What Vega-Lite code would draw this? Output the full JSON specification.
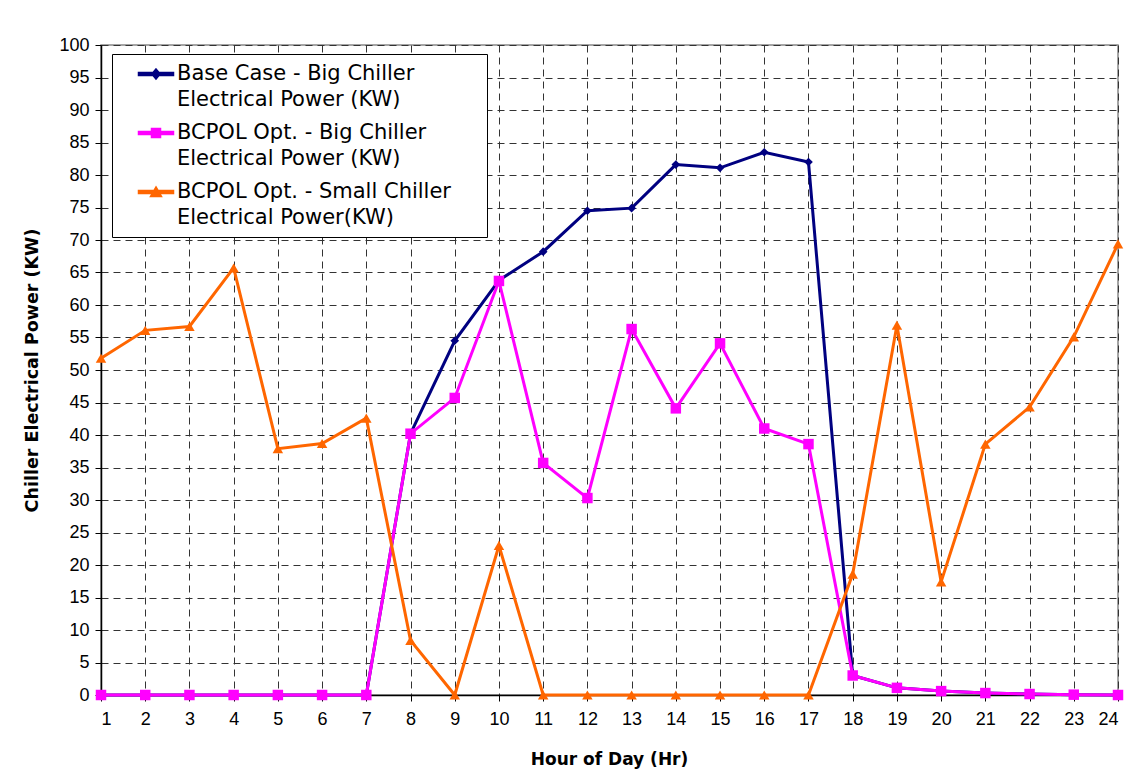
{
  "$schema": "https://vega.github.io/schema/vega-lite/v6.json",
  "width": 1017,
  "height": 650,
  "autosize": {"type": "none"},
  "padding": {"left": 101, "top": 45, "right": 22, "bottom": 85},
  "background": "white",
  "config": {
    "font": "Liberation Sans",
    "view": {"stroke": "#888888", "strokeWidth": 1.5},
    "style": {"guide-label": {"lineHeight": 26}},
    "axis": {
      "labelFont": "Liberation Sans",
      "titleFont": "DejaVu Sans",
      "labelFontSize": 18,
      "labelColor": "black",
      "titleFontSize": 17,
      "titleFontWeight": "bold",
      "titleColor": "black",
      "domainColor": "black",
      "domainWidth": 1.5,
      "tickColor": "black",
      "tickSize": 6,
      "gridColor": "#333333",
      "gridDash": [7, 5],
      "gridWidth": 1,
      "gridOpacity": 1
    }
  },
  "datasets": {
    "power": [
      {"hour": 1, "series": "Base Case - Big Chiller Electrical Power (KW)", "kw": 0},
      {"hour": 2, "series": "Base Case - Big Chiller Electrical Power (KW)", "kw": 0},
      {"hour": 3, "series": "Base Case - Big Chiller Electrical Power (KW)", "kw": 0},
      {"hour": 4, "series": "Base Case - Big Chiller Electrical Power (KW)", "kw": 0},
      {"hour": 5, "series": "Base Case - Big Chiller Electrical Power (KW)", "kw": 0},
      {"hour": 6, "series": "Base Case - Big Chiller Electrical Power (KW)", "kw": 0},
      {"hour": 7, "series": "Base Case - Big Chiller Electrical Power (KW)", "kw": 0},
      {"hour": 8, "series": "Base Case - Big Chiller Electrical Power (KW)", "kw": 40.2},
      {"hour": 9, "series": "Base Case - Big Chiller Electrical Power (KW)", "kw": 54.5},
      {"hour": 10, "series": "Base Case - Big Chiller Electrical Power (KW)", "kw": 63.8},
      {"hour": 11, "series": "Base Case - Big Chiller Electrical Power (KW)", "kw": 68.2},
      {"hour": 12, "series": "Base Case - Big Chiller Electrical Power (KW)", "kw": 74.5},
      {"hour": 13, "series": "Base Case - Big Chiller Electrical Power (KW)", "kw": 74.9},
      {"hour": 14, "series": "Base Case - Big Chiller Electrical Power (KW)", "kw": 81.6},
      {"hour": 15, "series": "Base Case - Big Chiller Electrical Power (KW)", "kw": 81.1},
      {"hour": 16, "series": "Base Case - Big Chiller Electrical Power (KW)", "kw": 83.5},
      {"hour": 17, "series": "Base Case - Big Chiller Electrical Power (KW)", "kw": 82.0},
      {"hour": 18, "series": "Base Case - Big Chiller Electrical Power (KW)", "kw": 3.0},
      {"hour": 19, "series": "Base Case - Big Chiller Electrical Power (KW)", "kw": 1.1},
      {"hour": 20, "series": "Base Case - Big Chiller Electrical Power (KW)", "kw": 0.6},
      {"hour": 21, "series": "Base Case - Big Chiller Electrical Power (KW)", "kw": 0.3},
      {"hour": 22, "series": "Base Case - Big Chiller Electrical Power (KW)", "kw": 0.15},
      {"hour": 23, "series": "Base Case - Big Chiller Electrical Power (KW)", "kw": 0.05},
      {"hour": 24, "series": "Base Case - Big Chiller Electrical Power (KW)", "kw": 0},
      {"hour": 1, "series": "BCPOL Opt. - Big Chiller Electrical Power (KW)", "kw": 0},
      {"hour": 2, "series": "BCPOL Opt. - Big Chiller Electrical Power (KW)", "kw": 0},
      {"hour": 3, "series": "BCPOL Opt. - Big Chiller Electrical Power (KW)", "kw": 0},
      {"hour": 4, "series": "BCPOL Opt. - Big Chiller Electrical Power (KW)", "kw": 0},
      {"hour": 5, "series": "BCPOL Opt. - Big Chiller Electrical Power (KW)", "kw": 0},
      {"hour": 6, "series": "BCPOL Opt. - Big Chiller Electrical Power (KW)", "kw": 0},
      {"hour": 7, "series": "BCPOL Opt. - Big Chiller Electrical Power (KW)", "kw": 0},
      {"hour": 8, "series": "BCPOL Opt. - Big Chiller Electrical Power (KW)", "kw": 40.2},
      {"hour": 9, "series": "BCPOL Opt. - Big Chiller Electrical Power (KW)", "kw": 45.7},
      {"hour": 10, "series": "BCPOL Opt. - Big Chiller Electrical Power (KW)", "kw": 63.7},
      {"hour": 11, "series": "BCPOL Opt. - Big Chiller Electrical Power (KW)", "kw": 35.7},
      {"hour": 12, "series": "BCPOL Opt. - Big Chiller Electrical Power (KW)", "kw": 30.3},
      {"hour": 13, "series": "BCPOL Opt. - Big Chiller Electrical Power (KW)", "kw": 56.3},
      {"hour": 14, "series": "BCPOL Opt. - Big Chiller Electrical Power (KW)", "kw": 44.1},
      {"hour": 15, "series": "BCPOL Opt. - Big Chiller Electrical Power (KW)", "kw": 54.1},
      {"hour": 16, "series": "BCPOL Opt. - Big Chiller Electrical Power (KW)", "kw": 41.0},
      {"hour": 17, "series": "BCPOL Opt. - Big Chiller Electrical Power (KW)", "kw": 38.6},
      {"hour": 18, "series": "BCPOL Opt. - Big Chiller Electrical Power (KW)", "kw": 3.0},
      {"hour": 19, "series": "BCPOL Opt. - Big Chiller Electrical Power (KW)", "kw": 1.1},
      {"hour": 20, "series": "BCPOL Opt. - Big Chiller Electrical Power (KW)", "kw": 0.6},
      {"hour": 21, "series": "BCPOL Opt. - Big Chiller Electrical Power (KW)", "kw": 0.3},
      {"hour": 22, "series": "BCPOL Opt. - Big Chiller Electrical Power (KW)", "kw": 0.15},
      {"hour": 23, "series": "BCPOL Opt. - Big Chiller Electrical Power (KW)", "kw": 0.05},
      {"hour": 24, "series": "BCPOL Opt. - Big Chiller Electrical Power (KW)", "kw": 0},
      {"hour": 1, "series": "BCPOL Opt. - Small Chiller Electrical Power(KW)", "kw": 51.8},
      {"hour": 2, "series": "BCPOL Opt. - Small Chiller Electrical Power(KW)", "kw": 56.1},
      {"hour": 3, "series": "BCPOL Opt. - Small Chiller Electrical Power(KW)", "kw": 56.7},
      {"hour": 4, "series": "BCPOL Opt. - Small Chiller Electrical Power(KW)", "kw": 65.7},
      {"hour": 5, "series": "BCPOL Opt. - Small Chiller Electrical Power(KW)", "kw": 37.9},
      {"hour": 6, "series": "BCPOL Opt. - Small Chiller Electrical Power(KW)", "kw": 38.7},
      {"hour": 7, "series": "BCPOL Opt. - Small Chiller Electrical Power(KW)", "kw": 42.6},
      {"hour": 8, "series": "BCPOL Opt. - Small Chiller Electrical Power(KW)", "kw": 8.4},
      {"hour": 9, "series": "BCPOL Opt. - Small Chiller Electrical Power(KW)", "kw": 0},
      {"hour": 10, "series": "BCPOL Opt. - Small Chiller Electrical Power(KW)", "kw": 23.0},
      {"hour": 11, "series": "BCPOL Opt. - Small Chiller Electrical Power(KW)", "kw": 0},
      {"hour": 12, "series": "BCPOL Opt. - Small Chiller Electrical Power(KW)", "kw": 0},
      {"hour": 13, "series": "BCPOL Opt. - Small Chiller Electrical Power(KW)", "kw": 0},
      {"hour": 14, "series": "BCPOL Opt. - Small Chiller Electrical Power(KW)", "kw": 0},
      {"hour": 15, "series": "BCPOL Opt. - Small Chiller Electrical Power(KW)", "kw": 0},
      {"hour": 16, "series": "BCPOL Opt. - Small Chiller Electrical Power(KW)", "kw": 0},
      {"hour": 17, "series": "BCPOL Opt. - Small Chiller Electrical Power(KW)", "kw": 0},
      {"hour": 18, "series": "BCPOL Opt. - Small Chiller Electrical Power(KW)", "kw": 18.6},
      {"hour": 19, "series": "BCPOL Opt. - Small Chiller Electrical Power(KW)", "kw": 56.9},
      {"hour": 20, "series": "BCPOL Opt. - Small Chiller Electrical Power(KW)", "kw": 17.4},
      {"hour": 21, "series": "BCPOL Opt. - Small Chiller Electrical Power(KW)", "kw": 38.6},
      {"hour": 22, "series": "BCPOL Opt. - Small Chiller Electrical Power(KW)", "kw": 44.3},
      {"hour": 23, "series": "BCPOL Opt. - Small Chiller Electrical Power(KW)", "kw": 55.1},
      {"hour": 24, "series": "BCPOL Opt. - Small Chiller Electrical Power(KW)", "kw": 69.4}
    ]
  },
  "data": {"name": "power"},
  "encoding": {
    "x": {
      "field": "hour",
      "type": "quantitative",
      "scale": {"domain": [1, 24], "nice": false, "zero": false},
      "axis": {
        "title": "Hour of Day (Hr)",
        "values": [1,2,3,4,5,6,7,8,9,10,11,12,13,14,15,16,17,18,19,20,21,22,23,24],
        "labelPadding": 9,
        "titleX": 508,
        "titleY": 64,
        "titleBaseline": "middle",
        "titleAnchor": "middle"
      }
    },
    "y": {
      "field": "kw",
      "type": "quantitative",
      "scale": {"domain": [0, 100], "nice": false},
      "axis": {
        "title": "Chiller Electrical Power (KW)",
        "titleFontSize": 17.5,
        "values": [0,5,10,15,20,25,30,35,40,45,50,55,60,65,70,75,80,85,90,95,100],
        "labelPadding": 6,
        "titleX": -69,
        "titleY": 325,
        "titleAngle": -90,
        "titleBaseline": "middle",
        "titleAlign": "center"
      }
    },
    "color": {
      "field": "series",
      "type": "nominal",
      "scale": {
        "domain": [
          "Base Case - Big Chiller Electrical Power (KW)",
          "BCPOL Opt. - Big Chiller Electrical Power (KW)",
          "BCPOL Opt. - Small Chiller Electrical Power(KW)"
        ],
        "range": ["#000080", "#FF00FF", "#FF6600"]
      },
      "legend": {
        "title": "\u00a0",
        "titleOrient": "right",
        "titleFontSize": 8,
        "titlePadding": 27,
        "orient": "none",
        "legendX": 11,
        "legendY": 9,
        "padding": 9,
        "fillColor": "white",
        "strokeColor": "black",
        "symbolSize": 400,
        "symbolOffset": 24,
        "symbolType": {"expr": "indexof(datum.value, 'Base') == 0 ? 'M-1.75,-0.15L1.75,-0.15L1.75,0.15L-1.75,0.15Z M0,-0.5L0.42,0L0,0.5L-0.42,0Z' : indexof(datum.value, 'Small') > 0 ? 'M-1.75,-0.15L1.75,-0.15L1.75,0.15L-1.75,0.15Z M0,-0.5L0.55,0.45L-0.55,0.45Z' : 'M-1.75,-0.15L1.75,-0.15L1.75,0.15L-1.75,0.15Z M-0.45,-0.45L0.45,-0.45L0.45,0.45L-0.45,0.45Z'"},
        "labelOffset": 10,
        "rowPadding": 12,
        "labelFont": "DejaVu Sans",
        "labelFontSize": 21,
        "labelColor": "black",
        "labelLimit": 500,
        "labelBaseline": "middle",
        "labelExpr": "[slice(datum.value, 0, indexof(datum.value, ' Electrical')), slice(datum.value, indexof(datum.value, ' Electrical') + 1)]"
      }
    }
  },
  "layer": [
    {
      "mark": {"type": "point", "filled": true, "opacity": 1, "shape": "diamond", "size": 75},
      "transform": [{"filter": "indexof(datum.series, 'Base') == 0"}]
    },
    {
      "mark": {"type": "line", "strokeWidth": 3}
    },
    {
      "mark": {"type": "point", "filled": true, "opacity": 1, "shape": "square", "size": 110},
      "transform": [{"filter": "indexof(datum.series, 'BCPOL Opt. - Big') == 0"}]
    },
    {
      "mark": {"type": "point", "filled": true, "opacity": 1, "shape": "triangle-up", "size": 110},
      "transform": [{"filter": "indexof(datum.series, 'Small') > 0"}]
    }
  ]
}
